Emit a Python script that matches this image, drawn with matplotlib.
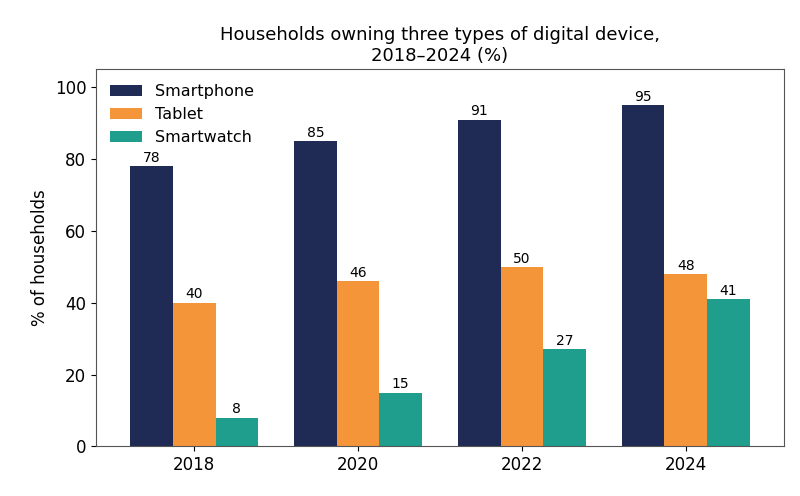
import numpy as np
import matplotlib
matplotlib.use('Agg')
import matplotlib.pyplot as plt

years = ['2018', '2020', '2022', '2024']
smartphone = [78, 85, 91, 95]
tablet = [40, 46, 50, 48]
smartwatch = [8, 15, 27, 41]

fig, ax = plt.subplots(figsize=(8, 4.96), dpi=100)
x = np.arange(len(years))
w = 0.26
series = [('Smartphone', smartphone, '#1f2a55'),
          ('Tablet', tablet, '#f4953a'),
          ('Smartwatch', smartwatch, '#1f9e8e')]
for i, (name, vals, col) in enumerate(series):
    bars = ax.bar(x + (i - 1) * w, vals, w, color=col, label=name)
    ax.bar_label(bars, padding=1, fontsize=10)

ax.set_xticks(x)
ax.set_xticklabels(years, fontsize=12)
ax.tick_params(axis='y', labelsize=12)
ax.set_ylim(0, 105)
ax.set_xlim(-0.6, 3.6)
ax.set_ylabel('% of households', fontsize=12)
ax.set_title('Households owning three types of digital device,\n2018\u20132024 (%)', fontsize=13)
for s in ax.spines.values():
    s.set_color('#555555')
ax.legend(loc='upper left', frameon=False, fontsize=11.5)
fig.subplots_adjust(left=0.12, right=0.98, top=0.86, bottom=0.1)
fig.savefig('out.png')
